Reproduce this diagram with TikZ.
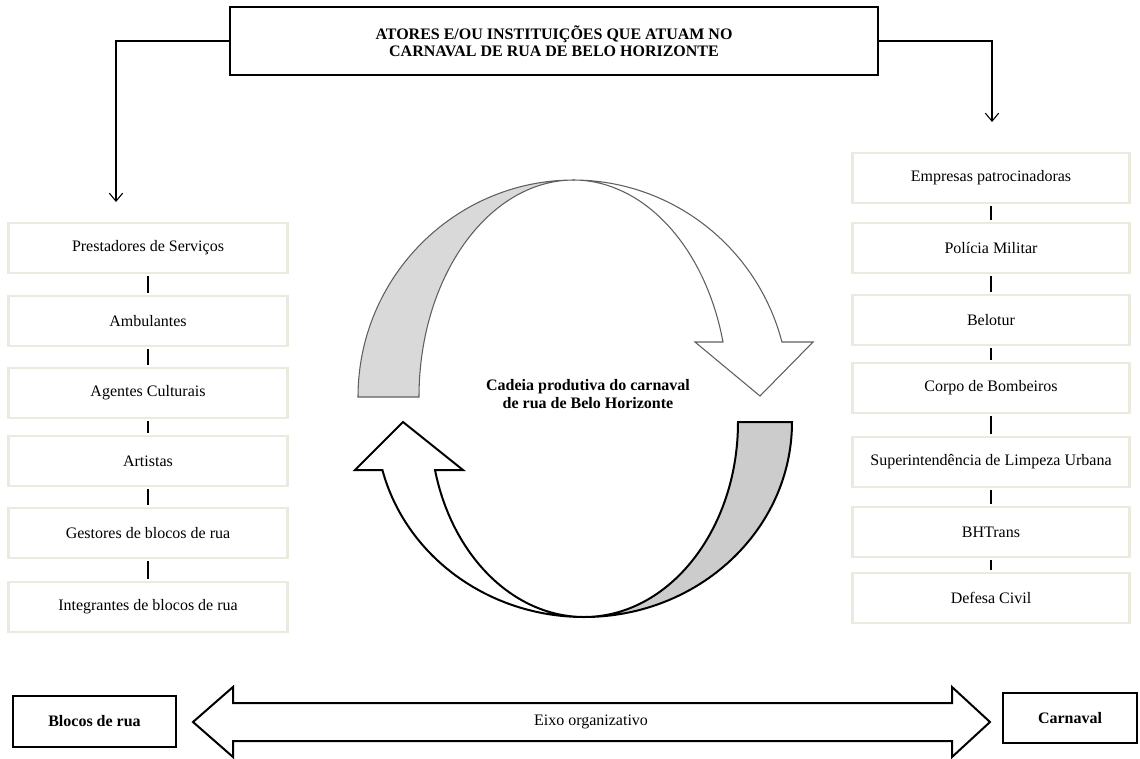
\documentclass[tikz,border=0pt]{standalone}
\usepackage{fontspec}
\setmainfont{Liberation Serif}
\usepackage{tikz}
\usetikzlibrary{arrows.meta}
\definecolor{boxline}{RGB}{236,234,222}
\definecolor{ringlight}{RGB}{217,217,217}
\definecolor{ringdark}{RGB}{204,204,204}
\definecolor{ringline}{RGB}{95,95,95}

\begin{document}
\begin{tikzpicture}[x=0.75pt,y=-0.75pt,
	every node/.style={font=\fontsize{12}{13}\selectfont},
	actor/.style={rectangle, draw=boxline, line width=2pt, minimum height=37.5pt},
	axisbox/.style={rectangle, draw, line width=1.6pt, font=\fontsize{12}{13}\selectfont\bfseries},
	link/.style={line width=1.1pt, shorten <=1.5pt, shorten >=1.5pt},
	feed/.style={line width=0.8pt, -{Straight Barb[length=6pt,width=10pt]}}]
				\useasboundingbox (0,0) rectangle (1140,758);
				
				% title
				\node[rectangle, draw, line width=2pt, minimum width=486pt, minimum height=51pt, align=center, font=\fontsize{12}{12.75}\selectfont\bfseries] (title) at (554,41) {ATORES E/OU INSTITUIÇÕES QUE ATUAM NO\\CARNAVAL DE RUA DE BELO HORIZONTE};
				\coordinate (lefttip) at (116,202);
				\coordinate (righttip) at (992,122);
				\draw[feed] (title.west) -| (lefttip);
				\draw[feed] (title.east) -| (righttip);
				
				% left column
				\node[actor, minimum width=209pt] (prest) at (148,248) {Prestadores de Serviços};
				\node[actor, minimum width=209pt] (ambul) at (148,321) {Ambulantes};
				\node[actor, minimum width=209pt] (agent) at (148,393) {Agentes Culturais};
				\node[actor, minimum width=209pt] (artist) at (148,461) {Artistas};
				\node[actor, minimum width=209pt] (gestor) at (148,533) {Gestores de blocos de rua};
				\node[actor, minimum width=209pt] (integ) at (148,607) {Integrantes de blocos de rua};
				
				\draw[link] (prest) -- (ambul);
				\draw[link] (ambul) -- (agent);
				\draw[link] (agent) -- (artist);
				\draw[link] (artist) -- (gestor);
				\draw[link] (gestor) -- (integ);
				
				% right column
				\node[actor, minimum width=208pt] (empresa) at (991,178) {Empresas patrocinadoras};
				\node[actor, minimum width=208pt] (policia) at (991,248) {Polícia Militar};
				\node[actor, minimum width=208pt] (belotur) at (991,320) {Belotur};
				\node[actor, minimum width=208pt] (bombeiro) at (991,388) {Corpo de Bombeiros};
				\node[actor, minimum width=208pt] (slu) at (991,462) {Superintendência de Limpeza Urbana};
				\node[actor, minimum width=208pt] (bhtrans) at (991,532) {BHTrans};
				\node[actor, minimum width=208pt] (defesa) at (991,598) {Defesa Civil};
				
				\draw[link] (empresa) -- (policia);
				\draw[link] (policia) -- (belotur);
				\draw[link] (belotur) -- (bombeiro);
				\draw[link] (bombeiro) -- (slu);
				\draw[link] (slu) -- (bhtrans);
				\draw[link] (bhtrans) -- (defesa);
				
				% cycle arrows
				\draw[draw=ringline, fill=ringlight, line width=0.8pt] (358,397) arc[start angle=180, end angle=90, x radius=162pt, y radius=162.75pt] arc[start angle=90, end angle=180, x radius=116.25pt, y radius=162.75pt] -- cycle;
				\draw[draw=ringline, fill=white, line width=0.8pt, line join=miter] (573,180) arc[start angle=90, end angle=14.68, x radius=162pt, y radius=162.75pt] -- (813,342) -- (760,396) -- (695,342) -- (723,342) arc[start angle=14.68, end angle=90, x radius=116.25pt, y radius=162.75pt] -- cycle;
				\draw[fill=ringdark, line width=1.5pt] (792,422) arc[start angle=0, end angle=-90, x radius=156pt, y radius=146.25pt] arc[start angle=-90, end angle=0, x radius=115.5pt, y radius=146.25pt] -- cycle;
				\draw[fill=white, line width=1.5pt, line join=miter] (584,617) arc[start angle=-90, end angle=-165.75, x radius=156pt, y radius=146.25pt] -- (355,470) -- (403,422) -- (463,470) -- (435,470) arc[start angle=-165.75, end angle=-90, x radius=115.5pt, y radius=146.25pt] -- cycle;
				
				\node[align=center, font=\fontsize{12}{13.5}\selectfont\bfseries] (chain) at (588,394) {Cadeia produtiva do carnaval\\de rua de Belo Horizonte};
				
				% organising axis
				\node[axisbox, minimum width=122pt, minimum height=38pt] (blocos) at (94.5,721.5) {Blocos de rua};
				\node[axisbox, minimum width=101pt, minimum height=37.5pt] (carnaval) at (1070,718) {Carnaval};
				\draw[line width=1.5pt, line join=miter] (193,722) -- (233,687) -- (233,703) -- (952,703) -- (952,687) -- (990,722) -- (952,757) -- (952,741) -- (233,741) -- (233,757) -- cycle;
				\node (eixo) at (591,722) {Eixo organizativo};
			\end{tikzpicture}
\end{document}
